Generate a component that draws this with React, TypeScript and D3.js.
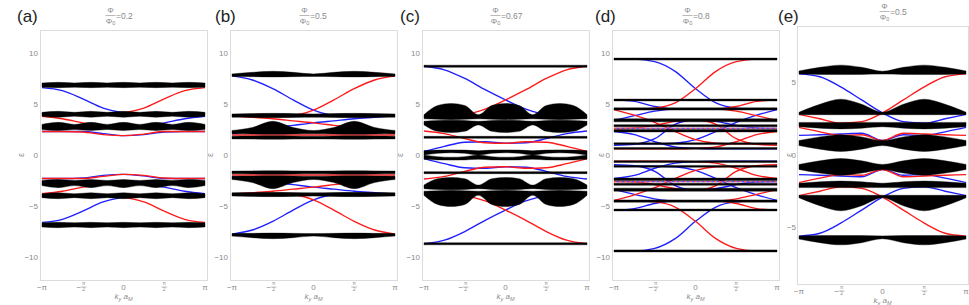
import React from "react";
import * as d3 from "d3";

const PI = Math.PI;

// panel tags and flux ratio of each panel
const panelTags = ["(a)", "(b)", "(c)", "(d)", "(e)"];
const fluxValues = ["0.2", "0.5", "0.67", "0.8", "0.5"];
const yTicksWide = [-10, -5, 0, 5, 10];
const yTicksNarrow = [-5, 0, 5];

// bulk bands: [lower edge, upper edge], sampled evenly over k from -pi to pi
const bandsA = [
  [[6.64, 6.6, 6.64, 6.6, 6.64, 6.6, 6.64, 6.6, 6.64, 6.6, 6.64], [7.06, 7.12, 7.06, 7.12, 7.06, 7.12, 7.06, 7.12, 7.06, 7.12, 7.06]],
  [[3.8, 3.7, 3.8, 3.7, 3.8, 3.7, 3.8, 3.7, 3.8, 3.7, 3.8], [4.18, 4.28, 4.18, 4.28, 4.18, 4.28, 4.18, 4.28, 4.18, 4.28, 4.18]],
  [[2.5, 2.4, 2.5, 2.4, 2.5, 2.4, 2.5, 2.4, 2.5, 2.4, 2.5], [3.0, 3.2, 3.0, 3.2, 3.0, 3.2, 3.0, 3.2, 3.0, 3.2, 3.0]],
  [[-3.0, -3.2, -3.0, -3.2, -3.0, -3.2, -3.0, -3.2, -3.0, -3.2, -3.0], [-2.5, -2.4, -2.5, -2.4, -2.5, -2.4, -2.5, -2.4, -2.5, -2.4, -2.5]],
  [[-4.18, -4.28, -4.18, -4.28, -4.18, -4.28, -4.18, -4.28, -4.18, -4.28, -4.18], [-3.8, -3.7, -3.8, -3.7, -3.8, -3.7, -3.8, -3.7, -3.8, -3.7, -3.8]],
  [[-7.06, -7.12, -7.06, -7.12, -7.06, -7.12, -7.06, -7.12, -7.06, -7.12, -7.06], [-6.64, -6.6, -6.64, -6.6, -6.64, -6.6, -6.64, -6.6, -6.64, -6.6, -6.64]],
];
const bandsB = [
  [[7.7, 7.68, 7.65, 7.68, 7.7, 7.68, 7.65, 7.68, 7.7], [7.95, 8.1, 8.2, 8.1, 7.95, 8.1, 8.2, 8.1, 7.95]],
  [[3.7, 3.68, 3.66, 3.68, 3.7, 3.68, 3.66, 3.68, 3.7], [4.02, 4.06, 4.08, 4.06, 4.02, 4.06, 4.08, 4.06, 4.02]],
  [[2.08, 2.06, 2.04, 2.06, 2.08, 2.06, 2.04, 2.06, 2.08], [2.4, 2.7, 3.3, 2.7, 2.4, 2.7, 3.3, 2.7, 2.4]],
  [[1.58, 1.56, 1.54, 1.56, 1.58, 1.56, 1.54, 1.56, 1.58], [1.84, 1.86, 1.88, 1.86, 1.84, 1.86, 1.88, 1.86, 1.84]],
  [[-1.84, -1.86, -1.88, -1.86, -1.84, -1.86, -1.88, -1.86, -1.84], [-1.58, -1.56, -1.54, -1.56, -1.58, -1.56, -1.54, -1.56, -1.58]],
  [[-2.4, -2.7, -3.3, -2.7, -2.4, -2.7, -3.3, -2.7, -2.4], [-2.08, -2.06, -2.04, -2.06, -2.08, -2.06, -2.04, -2.06, -2.08]],
  [[-4.02, -4.06, -4.08, -4.06, -4.02, -4.06, -4.08, -4.06, -4.02], [-3.7, -3.68, -3.66, -3.68, -3.7, -3.68, -3.66, -3.68, -3.7]],
  [[-7.95, -8.1, -8.2, -8.1, -7.95, -8.1, -8.2, -8.1, -7.95], [-7.7, -7.68, -7.65, -7.68, -7.7, -7.68, -7.65, -7.68, -7.7]],
];
const bandsC = [
  [[8.6, 8.6], [8.8, 8.8]],
  [[3.55, 3.5, 3.46, 3.5, 3.55, 3.5, 3.46, 3.5, 3.55, 3.5, 3.46, 3.5, 3.55], [3.95, 4.85, 5.05, 4.85, 3.95, 4.85, 5.05, 4.85, 3.95, 4.85, 5.05, 4.85, 3.95]],
  [[2.95, 2.32, 2.2, 2.32, 2.95, 2.32, 2.2, 2.32, 2.95, 2.32, 2.2, 2.32, 2.95], [3.3, 3.38, 3.4, 3.38, 3.3, 3.38, 3.4, 3.38, 3.3, 3.38, 3.4, 3.38, 3.3]],
  [[1.63, 1.63], [1.83, 1.83]],
  [[0.0, 0.16, 0.22, 0.16, 0.0, 0.16, 0.22, 0.16, 0.0, 0.16, 0.22, 0.16, 0.0], [0.42, 0.48, 0.5, 0.48, 0.42, 0.48, 0.5, 0.48, 0.42, 0.48, 0.5, 0.48, 0.42]],
  [[-0.42, -0.48, -0.5, -0.48, -0.42, -0.48, -0.5, -0.48, -0.42, -0.48, -0.5, -0.48, -0.42], [0.0, -0.16, -0.22, -0.16, 0.0, -0.16, -0.22, -0.16, 0.0, -0.16, -0.22, -0.16, 0.0]],
  [[-1.83, -1.83], [-1.63, -1.63]],
  [[-3.3, -3.38, -3.4, -3.38, -3.3, -3.38, -3.4, -3.38, -3.3, -3.38, -3.4, -3.38, -3.3], [-2.95, -2.32, -2.2, -2.32, -2.95, -2.32, -2.2, -2.32, -2.95, -2.32, -2.2, -2.32, -2.95]],
  [[-3.95, -4.85, -5.05, -4.85, -3.95, -4.85, -5.05, -4.85, -3.95, -4.85, -5.05, -4.85, -3.95], [-3.55, -3.5, -3.46, -3.5, -3.55, -3.5, -3.46, -3.5, -3.55, -3.5, -3.46, -3.5, -3.55]],
  [[-8.8, -8.8], [-8.6, -8.6]],
];
const bandsD = [
  [[9.3, 9.3], [9.5, 9.5]],
  [[5.3, 5.3], [5.48, 5.48]],
  [[4.4, 4.4], [4.62, 4.62]],
  [[3.25, 3.25], [3.55, 3.55]],
  [[2.76, 2.76], [2.97, 2.97]],
  [[2.26, 2.26], [2.5, 2.5]],
  [[1.02, 1.02], [1.2, 1.2]],
  [[0.56, 0.56], [0.74, 0.74]],
  [[-0.74, -0.74], [-0.56, -0.56]],
  [[-1.2, -1.2], [-1.02, -1.02]],
  [[-2.5, -2.5], [-2.26, -2.26]],
  [[-2.97, -2.97], [-2.76, -2.76]],
  [[-3.55, -3.55], [-3.25, -3.25]],
  [[-4.62, -4.62], [-4.4, -4.4]],
  [[-5.48, -5.48], [-5.3, -5.3]],
  [[-9.5, -9.5], [-9.3, -9.3]],
];
const bandsE = [
  [[5.58, 5.56, 5.55, 5.56, 5.58, 5.56, 5.55, 5.56, 5.58], [5.8, 6.05, 6.2, 6.05, 5.78, 6.05, 6.2, 6.05, 5.8]],
  [[2.78, 2.78, 2.78, 2.78, 2.78, 2.78, 2.78, 2.78, 2.78], [2.95, 3.5, 3.85, 3.5, 2.95, 3.5, 3.85, 3.5, 2.95]],
  [[1.95, 1.85, 1.8, 1.85, 1.95, 1.85, 1.8, 1.85, 1.95], [2.25, 2.25, 2.25, 2.25, 2.25, 2.25, 2.25, 2.25, 2.25]],
  [[0.65, 0.4, 0.25, 0.4, 0.65, 0.4, 0.25, 0.4, 0.65], [1.0, 1.25, 1.4, 1.25, 1.0, 1.25, 1.4, 1.25, 1.0]],
  [[-1.0, -1.25, -1.4, -1.25, -1.0, -1.25, -1.4, -1.25, -1.0], [-0.65, -0.4, -0.25, -0.4, -0.65, -0.4, -0.25, -0.4, -0.65]],
  [[-2.25, -2.25, -2.25, -2.25, -2.25, -2.25, -2.25, -2.25, -2.25], [-1.95, -1.85, -1.8, -1.85, -1.95, -1.85, -1.8, -1.85, -1.95]],
  [[-2.95, -3.5, -3.85, -3.5, -2.95, -3.5, -3.85, -3.5, -2.95], [-2.78, -2.78, -2.78, -2.78, -2.78, -2.78, -2.78, -2.78, -2.78]],
  [[-5.8, -6.05, -6.2, -6.05, -5.78, -6.05, -6.2, -6.05, -5.8], [-5.58, -5.56, -5.55, -5.56, -5.58, -5.56, -5.55, -5.56, -5.58]],
];

// edge states, sampled at k = -pi, -3pi/4, ..., pi
const blueA = [
  [6.6, 6.3, 5.5, 4.6, 4.15, 4.0, 4.0, 4.0, 4.0],
  [2.7, 2.7, 2.7, 2.7, 2.7, 2.8, 3.15, 3.55, 3.8],
  [2.3, 2.3, 2.3, 2.1, 1.9, 2.0, 2.25, 2.3, 2.3],
  [-6.6, -6.3, -5.5, -4.6, -4.15, -4.0, -4.0, -4.0, -4.0],
  [-2.7, -2.7, -2.7, -2.7, -2.7, -2.8, -3.15, -3.55, -3.8],
  [-2.3, -2.3, -2.25, -2.0, -1.9, -2.05, -2.3, -2.3, -2.3],
];
const redA = [
  [4.0, 4.0, 4.0, 4.0, 4.15, 4.6, 5.5, 6.3, 6.6],
  [3.8, 3.55, 3.15, 2.8, 2.7, 2.7, 2.7, 2.7, 2.7],
  [2.3, 2.3, 2.25, 2.0, 1.9, 2.05, 2.3, 2.3, 2.3],
  [-4.0, -4.0, -4.0, -4.0, -4.15, -4.6, -5.5, -6.3, -6.6],
  [-3.8, -3.55, -3.15, -2.8, -2.7, -2.7, -2.7, -2.7, -2.7],
  [-2.3, -2.3, -2.3, -2.1, -1.9, -2.0, -2.25, -2.3, -2.3],
];
const blueB = [
  [7.75, 7.35, 6.5, 5.4, 4.4, 3.9, 3.85, 3.85, 3.85],
  [2.1, 2.35, 2.65, 2.9, 3.15, 3.35, 3.55, 3.7, 3.85],
  [-7.75, -7.35, -6.5, -5.4, -4.4, -3.9, -3.85, -3.85, -3.85],
  [-2.1, -2.35, -2.65, -2.9, -3.15, -3.35, -3.55, -3.7, -3.85],
];
const redB = [
  [3.85, 3.85, 3.85, 3.9, 4.4, 5.4, 6.5, 7.35, 7.75],
  [3.85, 3.7, 3.55, 3.35, 3.15, 2.9, 2.65, 2.35, 2.1],
  [1.96, 1.96],
  [-3.85, -3.85, -3.85, -3.9, -4.4, -5.4, -6.5, -7.35, -7.75],
  [-3.85, -3.7, -3.55, -3.35, -3.15, -2.9, -2.65, -2.35, -2.1],
  [-1.96, -1.96],
];
const blueC = [
  [8.7, 8.35, 7.5, 6.4, 5.4, 4.5, 4.0, 3.9, 3.9],
  [0.35, 0.85, 1.25, 1.3, 1.15, 1.2, 1.6, 2.1, 2.35],
  [-0.35, -0.85, -1.25, -1.3, -1.15, -1.2, -1.6, -2.1, -2.35],
  [-8.7, -8.35, -7.5, -6.4, -5.4, -4.5, -4.0, -3.9, -3.9],
];
const redC = [
  [3.9, 3.9, 4.0, 4.5, 5.4, 6.4, 7.5, 8.35, 8.7],
  [2.35, 2.1, 1.6, 1.2, 1.15, 1.3, 1.25, 0.85, 0.35],
  [-2.35, -2.1, -1.6, -1.2, -1.15, -1.3, -1.25, -0.85, -0.35],
  [-3.9, -3.9, -4.0, -4.5, -5.4, -6.4, -7.5, -8.35, -8.7],
];
const blueD = [
  [9.4, 9.4, 9.15, 8.2, 6.5, 5.1, 4.6, 4.5, 4.5],
  [5.4, 5.25, 4.75, 4.5, 4.5, 4.5, 4.5, 4.5, 4.5],
  [1.1, 1.1, 1.1, 1.15, 1.5, 2.3, 3.2, 3.9, 4.45],
  [3.4, 3.85, 4.3, 4.5, 4.5, 4.5, 4.5, 4.5, 4.5],
  [0.95, 1.05, 1.6, 3.0, 3.45, 3.3, 2.9, 2.65, 2.6],
  [2.3, 2.0, 1.3, 0.8, 0.65, 0.6, 0.6, 0.6, 0.6],
  [-9.4, -9.4, -9.15, -8.2, -6.5, -5.1, -4.6, -4.5, -4.5],
  [-5.4, -5.25, -4.75, -4.5, -4.5, -4.5, -4.5, -4.5, -4.5],
  [-1.1, -1.1, -1.1, -1.15, -1.5, -2.3, -3.2, -3.9, -4.45],
  [-3.4, -3.85, -4.3, -4.5, -4.5, -4.5, -4.5, -4.5, -4.5],
  [-0.95, -1.05, -1.6, -3.0, -3.45, -3.3, -2.9, -2.65, -2.6],
  [-2.3, -2.0, -1.3, -0.8, -0.65, -0.6, -0.6, -0.6, -0.6],
];
const redD = [
  [4.5, 4.5, 4.6, 5.1, 6.5, 8.2, 9.15, 9.4, 9.4],
  [4.5, 4.5, 4.5, 4.5, 4.5, 4.5, 4.75, 5.25, 5.4],
  [4.45, 3.9, 3.2, 2.3, 1.5, 1.15, 1.1, 1.1, 1.1],
  [4.5, 4.5, 4.5, 4.5, 4.5, 4.5, 4.3, 3.85, 3.4],
  [2.6, 2.65, 2.9, 3.3, 3.45, 3.0, 1.6, 1.05, 0.95],
  [0.6, 0.6, 0.6, 0.6, 0.65, 0.8, 1.3, 2.0, 2.3],
  [-4.5, -4.5, -4.6, -5.1, -6.5, -8.2, -9.15, -9.4, -9.4],
  [-4.5, -4.5, -4.5, -4.5, -4.5, -4.5, -4.75, -5.25, -5.4],
  [-4.45, -3.9, -3.2, -2.3, -1.5, -1.15, -1.1, -1.1, -1.1],
  [-4.5, -4.5, -4.5, -4.5, -4.5, -4.5, -4.3, -3.85, -3.4],
  [-2.6, -2.65, -2.9, -3.3, -3.45, -3.0, -1.6, -1.05, -0.95],
  [-0.6, -0.6, -0.6, -0.6, -0.65, -0.8, -1.3, -2.0, -2.3],
];
// dashed red/blue states inside the dense bands of (d)
const dashedD = [2.62, -2.62];
const blueE = [
  [5.6, 5.4, 4.7, 3.8, 2.9, 2.3, 2.2, 2.5, 2.8],
  [1.35, 1.4, 1.45, 1.5, 1.0, 1.4, 1.35, 1.6, 1.9],
  [-5.6, -5.4, -4.7, -3.8, -2.9, -2.3, -2.2, -2.5, -2.8],
  [-1.35, -1.4, -1.45, -1.5, -1.0, -1.4, -1.35, -1.6, -1.9],
];
const redE = [
  [2.8, 2.5, 2.2, 2.3, 2.9, 3.8, 4.7, 5.4, 5.6],
  [1.9, 1.6, 1.35, 1.4, 1.0, 1.5, 1.45, 1.4, 1.35],
  [-2.8, -2.5, -2.2, -2.3, -2.9, -3.8, -4.7, -5.4, -5.6],
  [-1.9, -1.6, -1.35, -1.4, -1.0, -1.5, -1.45, -1.4, -1.35],
];

const allBands = [bandsA, bandsB, bandsC, bandsD, bandsE];
const allBlue = [blueA, blueB, blueC, blueD, blueE];
const allRed = [redA, redB, redC, redD, redE];

// layout
const frameLeft = [40, 230, 422, 612, 797];
const frameRight = [207, 397, 589, 779, 968];
const frameTop = [30, 30, 30, 30, 26];
const frameBottom = [280, 280, 280, 280, 284];
const energyMax = [12.25, 12.25, 12.25, 12.25, 8.9];
const tagX = [17, 215, 400, 595, 778];
const epsX = [21, 210, 400, 601, 789];
const tickRight = [38, 228, 420, 610, 796];
const titleShift = [-13, -9, -10, -8, 2];

const GRAY = "#8a8a8a";

function kGrid(n: number) {
  return d3.range(n).map((j) => -PI + (2 * PI * j) / (n - 1));
}

function Frac({ x, y, top, bottom, size }: { x: number; y: number; top: string; bottom: React.ReactNode; size: number }) {
  return (
    <g>
      <text x={x} y={y - 2} fontSize={size} textAnchor="middle" fill={GRAY}>{top}</text>
      <line x1={x - size * 0.6} x2={x + size * 0.6} y1={y} y2={y} stroke={GRAY} strokeWidth={0.5} />
      <text x={x} y={y + size * 0.85} fontSize={size} textAnchor="middle" fill={GRAY}>{bottom}</text>
    </g>
  );
}

function Panel({ p }: { p: number }) {
  const x = d3.scaleLinear().domain([-PI, PI]).range([frameLeft[p] + 2, frameRight[p] - 2]);
  const y = d3.scaleLinear().domain([-energyMax[p], energyMax[p]]).range([frameBottom[p], frameTop[p]]);

  const line = (vals: number[]) => {
    const ks = kGrid(vals.length);
    return d3.line<number>().x((_, j) => x(ks[j])).y((v) => y(v)).curve(d3.curveMonotoneX)(vals) || "";
  };
  const area = (lo: number[], hi: number[]) => {
    const ks = kGrid(lo.length);
    return (
      d3.area<number>()
        .x((_, j) => x(ks[j]))
        .y0((v) => y(v))
        .y1((_, j) => y(hi[j]))
        .curve(d3.curveMonotoneX)(lo) || ""
    );
  };

  const ticks = p < 4 ? yTicksWide : yTicksNarrow;
  const cx = x(0);
  const top = frameTop[p];
  const bot = frameBottom[p];
  const tx = cx + titleShift[p];

  return (
    <g>
      <clipPath id={`clip${p}`}>
        <rect x={frameLeft[p]} y={top} width={frameRight[p] - frameLeft[p]} height={bot - top} />
      </clipPath>
      <rect x={frameLeft[p] + 0.5} y={top + 0.5} width={frameRight[p] - frameLeft[p]} height={bot - top} fill="none" stroke="#dcdcdc" strokeWidth={1} />

      <g clipPath={`url(#clip${p})`}>
        {allBlue[p].map((v, i) => (
          <path key={`b${i}`} d={line(v)} fill="none" stroke="#1f1fff" strokeWidth={1.35} />
        ))}
        {allRed[p].map((v, i) => (
          <path key={`r${i}`} d={line(v)} fill="none" stroke="#ff1a1a" strokeWidth={1.35} />
        ))}
        <g filter="url(#soft)">
          {allBands[p].map(([lo, hi], i) => (
            <path key={`band${i}`} d={area(lo, hi)} fill="#000" stroke="#000" strokeWidth={0.4} />
          ))}
        </g>
        {p === 3 &&
          dashedD.map((v, i) => (
            <g key={`dash${i}`}>
              <path d={line([v, v])} stroke="#fff" strokeWidth={1.2} />
              <path d={line([v, v])} stroke="#ff1a1a" strokeWidth={1.1} strokeDasharray="2.5 2.5" />
              <path d={line([v, v])} stroke="#1f1fff" strokeWidth={1.1} strokeDasharray="2.5 2.5" strokeDashoffset={2.5} />
            </g>
          ))}
      </g>

      {ticks.map((t) => (
        <text key={t} x={tickRight[p]} y={y(t)} dy="0.35em" textAnchor="end" fontSize={8} fill={GRAY}>
          {t < 0 ? `\u2212${Math.abs(t)}` : t}
        </text>
      ))}
      <text transform={`translate(${epsX[p]},${y(0)}) rotate(-90)`} textAnchor="middle" dy="0.35em" fontSize={9} fill={GRAY}>
        ε
      </text>

      <text x={x(-PI)} y={bot + 9.5} textAnchor="middle" fontSize={8} fill={GRAY}>{"\u2212π"}</text>
      <text x={x(-PI / 2) - 4} y={bot + 9.5} textAnchor="middle" fontSize={8} fill={GRAY}>{"\u2212"}</text>
      <Frac x={x(-PI / 2) + 1} y={bot + 7} top="π" bottom="2" size={5} />
      <text x={x(0)} y={bot + 9.5} textAnchor="middle" fontSize={8} fill={GRAY}>0</text>
      <Frac x={x(PI / 2)} y={bot + 7} top="π" bottom="2" size={5} />
      <text x={x(PI)} y={bot + 9.5} textAnchor="middle" fontSize={8} fill={GRAY}>π</text>
      <text x={cx} y={bot + 19} textAnchor="middle" fontSize={8} fill={GRAY} fontStyle="italic">
        k<tspan fontSize={5.5} dy={1.5}>y</tspan>
        <tspan dy={-1.5}> a</tspan>
        <tspan fontSize={5.5} dy={1.5}>M</tspan>
      </text>

      <text x={tagX[p]} y={22} fontSize={17} fill="#222">{panelTags[p]}</text>
      <text x={tx} y={top - 17} fontSize={8} textAnchor="middle" fill={GRAY}>Φ</text>
      <line x1={tx - 5} x2={tx + 5} y1={top - 14.5} y2={top - 14.5} stroke={GRAY} strokeWidth={0.6} />
      <text x={tx} y={top - 6.5} fontSize={8} textAnchor="middle" fill={GRAY}>
        Φ<tspan fontSize={5.5} dy={1.5}>0</tspan>
      </text>
      <text x={tx + 5.5} y={top - 11.5} fontSize={8.5} fill={GRAY}>={fluxValues[p]}</text>
    </g>
  );
}

export default function App() {
  return (
    <svg
      width={969}
      height={305}
      style={{ position: "absolute", left: 0, top: 0, background: "#fff" }}
      fontFamily="'Liberation Sans', Arial, sans-serif"
    >
      <defs>
        <filter id="soft" x="-5%" y="-5%" width="110%" height="110%">
          <feGaussianBlur stdDeviation="0.3" />
        </filter>
      </defs>
      {[0, 1, 2, 3, 4].map((p) => (
        <Panel key={p} p={p} />
      ))}
    </svg>
  );
}
